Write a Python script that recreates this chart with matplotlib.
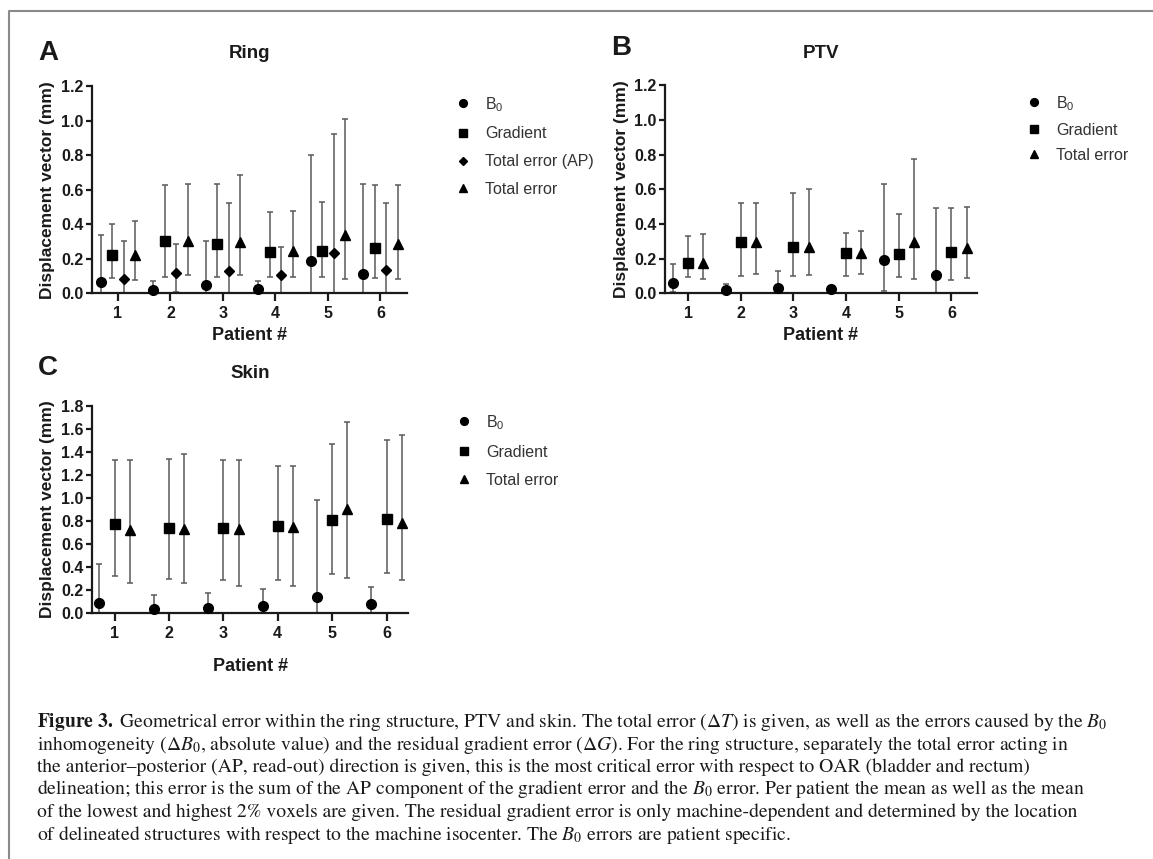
import matplotlib
matplotlib.use("Agg")
import matplotlib.pyplot as plt
from matplotlib.lines import Line2D
import numpy as np

plt.rcParams['font.family'] = ['Liberation Sans', 'DejaVu Sans']
plt.rcParams['mathtext.fontset'] = 'custom'
plt.rcParams['mathtext.rm'] = 'Liberation Sans'
plt.rcParams['mathtext.it'] = 'Liberation Sans:italic'
plt.rcParams['mathtext.bf'] = 'Liberation Sans:bold'

patients = [1, 2, 3, 4, 5, 6]
tick_labels = ["1", "2", "3", "4", "5", "6"]

# ---------------- Panel A: Ring ----------------
ring_b0_mean = [0.065, 0.020, 0.048, 0.025, 0.185, 0.110]
ring_b0_low = [0.0, 0.0, 0.0, 0.0, 0.0, 0.0]
ring_b0_high = [0.34, 0.07, 0.30, 0.07, 0.80, 0.63]

ring_grad_mean = [0.22, 0.30, 0.285, 0.24, 0.245, 0.265]
ring_grad_low = [0.09, 0.095, 0.095, 0.095, 0.095, 0.09]
ring_grad_high = [0.40, 0.625, 0.63, 0.47, 0.53, 0.625]

ring_ap_mean = [0.08, 0.12, 0.13, 0.105, 0.235, 0.135]
ring_ap_low = [0.0, 0.01, 0.0, 0.0, 0.0, 0.0]
ring_ap_high = [0.30, 0.285, 0.52, 0.27, 0.92, 0.52]

ring_tot_mean = [0.22, 0.30, 0.295, 0.245, 0.335, 0.288]
ring_tot_low = [0.075, 0.105, 0.105, 0.095, 0.08, 0.085]
ring_tot_high = [0.42, 0.63, 0.685, 0.475, 1.01, 0.626]

# ---------------- Panel B: PTV ----------------
ptv_b0_mean = [0.058, 0.020, 0.029, 0.023, 0.19, 0.106]
ptv_b0_low = [0.01, 0.005, 0.005, 0.015, 0.015, 0.0]
ptv_b0_high = [0.167, 0.052, 0.128, 0.03, 0.63, 0.49]

ptv_grad_mean = [0.173, 0.294, 0.265, 0.235, 0.227, 0.24]
ptv_grad_low = [0.096, 0.10, 0.10, 0.10, 0.096, 0.077]
ptv_grad_high = [0.33, 0.523, 0.577, 0.35, 0.456, 0.494]

ptv_tot_mean = [0.173, 0.294, 0.27, 0.235, 0.298, 0.26]
ptv_tot_low = [0.08, 0.11, 0.106, 0.11, 0.08, 0.087]
ptv_tot_high = [0.34, 0.523, 0.604, 0.362, 0.773, 0.50]

# ---------------- Panel C: Skin ----------------
skin_b0_mean = [0.087, 0.04, 0.05, 0.065, 0.145, 0.08]
skin_b0_low = [0.0, 0.0, 0.0, 0.0, 0.0, 0.0]
skin_b0_high = [0.43, 0.16, 0.175, 0.21, 0.98, 0.23]

skin_grad_mean = [0.77, 0.74, 0.74, 0.755, 0.81, 0.82]
skin_grad_low = [0.32, 0.30, 0.29, 0.285, 0.34, 0.35]
skin_grad_high = [1.33, 1.335, 1.325, 1.28, 1.465, 1.50]

skin_tot_mean = [0.72, 0.73, 0.73, 0.745, 0.905, 0.78]
skin_tot_low = [0.26, 0.265, 0.235, 0.24, 0.31, 0.29]
skin_tot_high = [1.33, 1.385, 1.325, 1.275, 1.66, 1.55]

W, H = 1153, 859
fig = plt.figure(figsize=(W / 100, H / 100), dpi=100)
fig.patch.set_facecolor('white')

# page frame (left and top edges)
fig.add_artist(Line2D([9 / W, 9 / W, 1.0], [0.0, 1 - 11 / H, 1 - 11 / H],
                      transform=fig.transFigure, color='#8a8a8a', lw=1.5))


def px_axes(x0, y0, x1, y1):
    return fig.add_axes([x0 / W, 1 - y1 / H, (x1 - x0) / W, (y1 - y0) / H])


ERR_COLOR = '#5a5a5a'


def draw_series(ax, offset, mean, low, high, marker, ms, label):
    x = np.array(patients, dtype=float) + offset
    mean = np.array(mean)
    yerr = [mean - np.array(low), np.array(high) - mean]
    ax.errorbar(x, mean, yerr=yerr, fmt='none', ecolor=ERR_COLOR,
                elinewidth=1.1, capsize=2.2, capthick=1.1, clip_on=False, zorder=2)
    ax.plot(x, mean, linestyle='none', marker=marker, markersize=ms,
            color='black', label=label, clip_on=False, zorder=3)


def style_axes(ax, ymax, ystep, xlim):
    ax.set_facecolor('none')
    ax.set_xlim(*xlim)
    ax.set_ylim(0, ymax)
    ax.set_yticks(np.arange(0, ymax + 1e-9, ystep))
    ax.set_yticklabels([f"{v:.1f}" for v in np.arange(0, ymax + 1e-9, ystep)])
    ax.set_xticks(patients)
    ax.set_xticklabels(tick_labels)
    for s in ['top', 'right']:
        ax.spines[s].set_visible(False)
    for s in ['left', 'bottom']:
        ax.spines[s].set_linewidth(1.6)
        ax.spines[s].set_color('#1a1a1a')
    ax.tick_params(axis='y', direction='out', length=4, width=1.6, pad=2,
                   labelsize=11.5, colors='#1a1a1a')
    ax.tick_params(axis='x', direction='out', length=5.5, width=1.6, pad=4,
                   labelsize=11.5, colors='#1a1a1a')
    for lab in ax.get_xticklabels() + ax.get_yticklabels():
        lab.set_fontweight('bold')
    ax.set_ylabel("Displacement vector (mm)", fontsize=12.5, fontweight='bold',
                  color='#1a1a1a', labelpad=4)


LEG_KW = dict(bbox_transform=fig.transFigure, frameon=False, fontsize=11.5,
              handlelength=1.0, handletextpad=0.9, markerscale=0.8,
              borderaxespad=0, borderpad=0, loc='upper left', labelcolor='#333333')

# Panel A
axA = px_axes(91.7, 86, 406.7, 293.3)
draw_series(axA, -0.33, ring_b0_mean, ring_b0_low, ring_b0_high, 'o', 7, r"B$_0$")
draw_series(axA, -0.11, ring_grad_mean, ring_grad_low, ring_grad_high, 's', 7, "Gradient")
draw_series(axA, 0.11, ring_ap_mean, ring_ap_low, ring_ap_high, 'D', 5, "Total error (AP)")
draw_series(axA, 0.33, ring_tot_mean, ring_tot_low, ring_tot_high, '^', 7.5, "Total error")
style_axes(axA, 1.2, 0.2, (0.5, 6.5))
axA.set_title("Ring", fontsize=13.5, fontweight='bold', pad=20, color='#1a1a1a')
axA.set_xlabel("Patient #", fontsize=13, fontweight='bold', labelpad=4, color='#1a1a1a')
axA.legend(bbox_to_anchor=(455 / W, 1 - 95 / H), labelspacing=0.8, **LEG_KW)

# Panel B
axB = px_axes(665, 85.3, 976.7, 293.3)
draw_series(axB, -0.29, ptv_b0_mean, ptv_b0_low, ptv_b0_high, 'o', 7, r"B$_0$")
draw_series(axB, 0.0, ptv_grad_mean, ptv_grad_low, ptv_grad_high, 's', 7, "Gradient")
draw_series(axB, 0.29, ptv_tot_mean, ptv_tot_low, ptv_tot_high, '^', 7.5, "Total error")
style_axes(axB, 1.2, 0.2, (0.56, 6.48))
axB.set_title("PTV", fontsize=13.5, fontweight='bold', pad=20, color='#1a1a1a')
axB.set_xlabel("Patient #", fontsize=13, fontweight='bold', labelpad=4, color='#1a1a1a')
axB.legend(bbox_to_anchor=(1026 / W, 1 - 94 / H), labelspacing=0.62, **LEG_KW)

# Panel C
axC = px_axes(91.7, 405.7, 408.3, 613.3)
draw_series(axC, -0.28, skin_b0_mean, skin_b0_low, skin_b0_high, 'o', 7, r"B$_0$")
draw_series(axC, 0.0, skin_grad_mean, skin_grad_low, skin_grad_high, 's', 7, "Gradient")
draw_series(axC, 0.28, skin_tot_mean, skin_tot_low, skin_tot_high, '^', 7.5, "Total error")
style_axes(axC, 1.8, 0.2, (0.58, 6.4))
axC.set_title("Skin", fontsize=13.5, fontweight='bold', pad=20, color='#1a1a1a')
axC.set_xlabel("Patient #", fontsize=13, fontweight='bold', labelpad=12, color='#1a1a1a')
axC.legend(bbox_to_anchor=(456 / W, 1 - 413 / H), labelspacing=0.82, **LEG_KW)

# panel letters
for letter, (lx, ly) in {"A": (48, 53), "B": (621, 48), "C": (48, 368)}.items():
    fig.text(lx / W, 1 - ly / H, letter, fontsize=20, fontweight='bold',
             ha='center', va='center', color='#1a1a1a')

# caption
cap_lines = [
    r"$\mathbf{Figure\ 3.}$ Geometrical error within the ring structure, PTV and skin. The total error ($\Delta T$) is given, as well as the errors caused by the $B_0$",
    r"inhomogeneity ($\Delta B_0$, absolute value) and the residual gradient error ($\Delta G$). For the ring structure, separately the total error acting in",
    r"the anterior–posterior (AP, read-out) direction is given, this is the most critical error with respect to OAR (bladder and rectum)",
    r"delineation; this error is the sum of the AP component of the gradient error and the $B_0$ error. Per patient the mean as well as the mean",
    r"of the lowest and highest 2% voxels are given. The residual gradient error is only machine-dependent and determined by the location",
    r"of delineated structures with respect to the machine isocenter. The $B_0$ errors are patient specific.",
]
cap_y = [722, 744.5, 767, 789.5, 812, 834.5]
for line, y in zip(cap_lines, cap_y):
    fig.text(37 / W, 1 - y / H, line, fontsize=14.1, ha='left', va='center',
             family='STIXGeneral', color='#1a1a1a', math_fontfamily='stix')

fig.savefig("out.png", dpi=100, facecolor='white')
